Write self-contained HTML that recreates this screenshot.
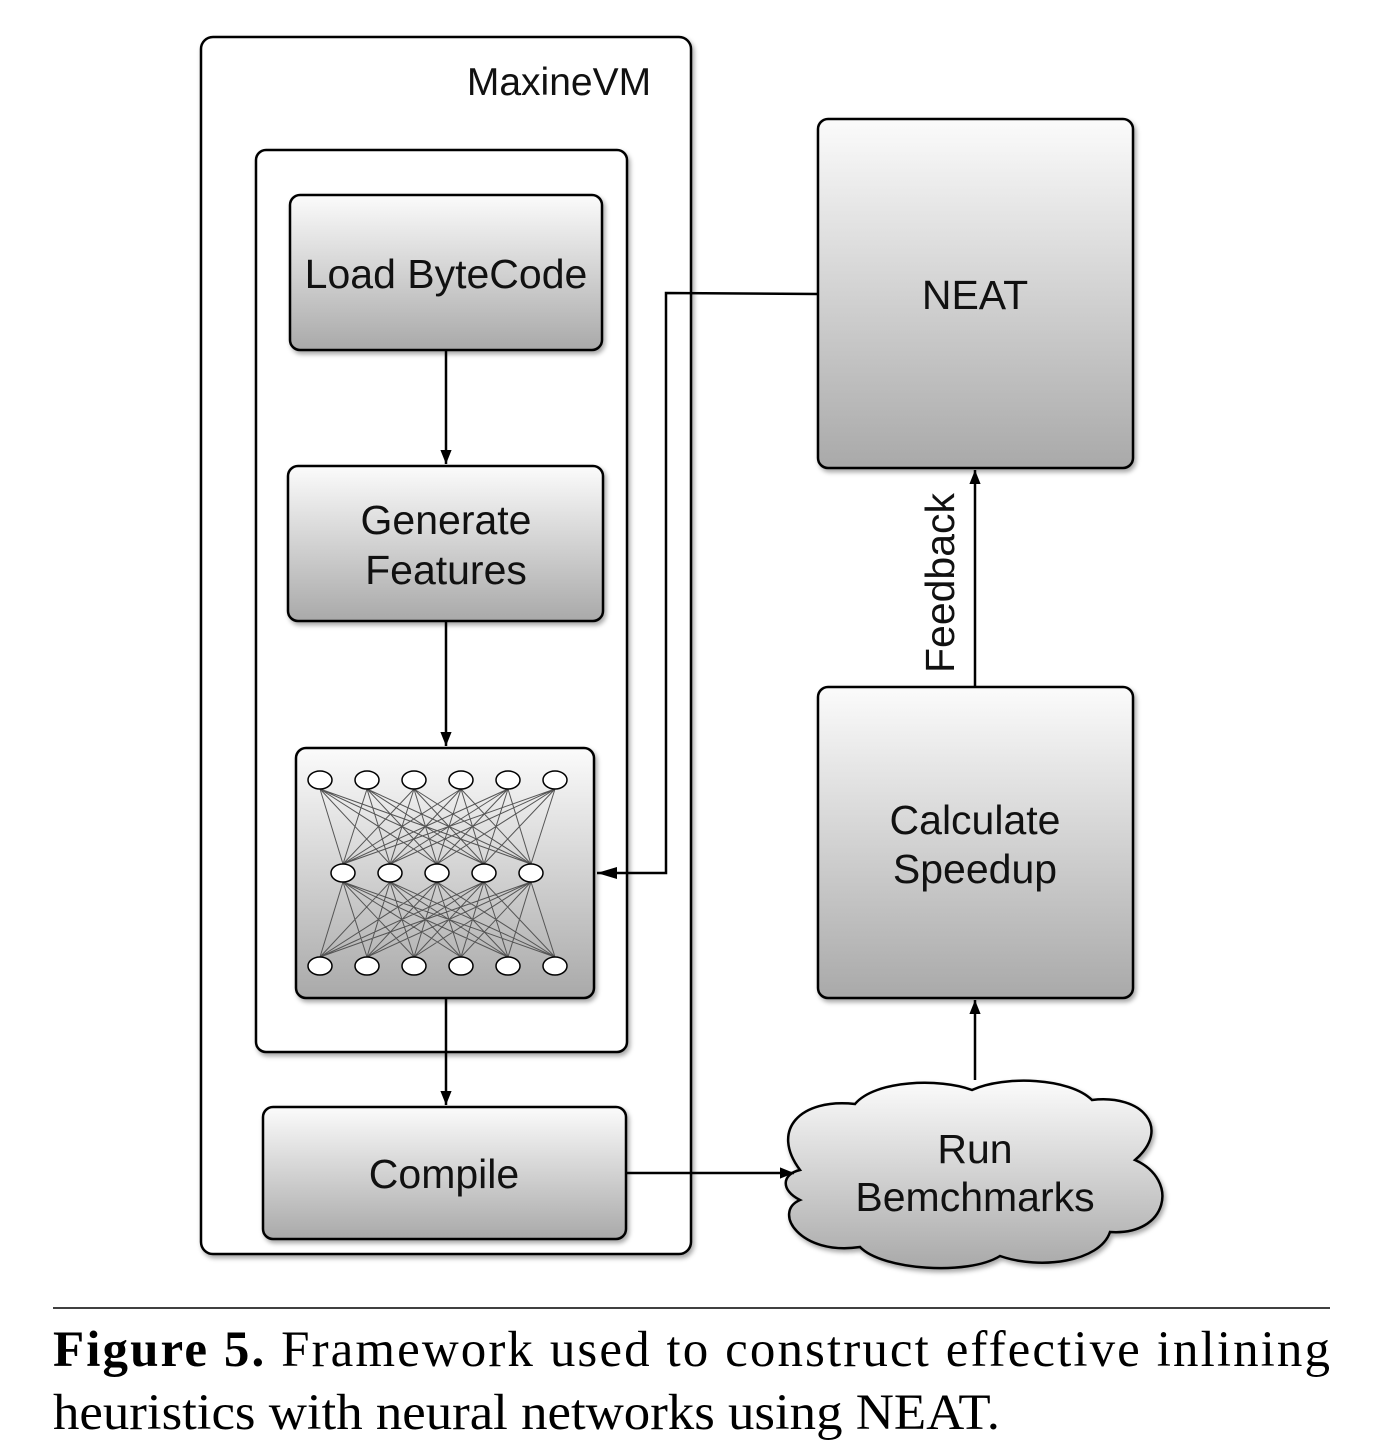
<!DOCTYPE html>
<html><head><meta charset="utf-8"><style>
html,body{margin:0;padding:0;background:#fff;}
svg{display:block;}
.t{font-family:"Liberation Sans",sans-serif;font-size:41px;fill:#111;text-anchor:middle;}
.c{font-family:"Liberation Serif",serif;font-size:51px;fill:#000;}
</style></head><body>
<svg width="1396" height="1448" viewBox="0 0 1396 1448" xmlns="http://www.w3.org/2000/svg">
<defs>
<linearGradient id="g" x1="0" y1="0" x2="0" y2="1"><stop offset="0" stop-color="#fbfbfb"/><stop offset="1" stop-color="#a9a9a9"/></linearGradient>
<filter id="s" x="-10%" y="-10%" width="130%" height="130%"><feDropShadow dx="2" dy="3" stdDeviation="2.5" flood-color="#000" flood-opacity="0.35"/></filter>
<marker id="a" viewBox="0 0 10 10" refX="10" refY="5" markerWidth="14" markerHeight="14" markerUnits="userSpaceOnUse" orient="auto"><path d="M0,1L10,5L0,9z" fill="#000"/></marker>
<marker id="b" viewBox="0 0 10 10" refX="10" refY="5" markerWidth="20" markerHeight="20" markerUnits="userSpaceOnUse" orient="auto"><path d="M0,2L10,5L0,8z" fill="#000"/></marker>
</defs>
<rect x="201" y="37" width="490" height="1217" rx="12" fill="#fff" stroke="#000" stroke-width="2.5" filter="url(#s)"/>
<text x="559" y="95" class="t" style="font-size:39px">MaxineVM</text>
<rect x="256" y="150" width="371" height="902" rx="10" fill="#fff" stroke="#000" stroke-width="2.5" filter="url(#s)"/>

<rect x="290" y="195" width="312" height="155" rx="10" fill="url(#g)" stroke="#000" stroke-width="2.5" filter="url(#s)"/>
<text x="446" y="288" class="t">Load ByteCode</text>
<rect x="288" y="466" width="315" height="155" rx="10" fill="url(#g)" stroke="#000" stroke-width="2.5" filter="url(#s)"/>
<text x="446" y="534" class="t">Generate</text>
<text x="446" y="584" class="t">Features</text>
<rect x="296" y="748" width="298" height="250" rx="10" fill="url(#g)" stroke="#000" stroke-width="2.5" filter="url(#s)"/>
<path stroke="#555" stroke-width="1" fill="none" d="
M320 789L343 864M320 789L390 864M320 789L437 864M320 789L484 864M320 789L531 864
M367 789L343 864M367 789L390 864M367 789L437 864M367 789L484 864M367 789L531 864
M414 789L343 864M414 789L390 864M414 789L437 864M414 789L484 864M414 789L531 864
M461 789L343 864M461 789L390 864M461 789L437 864M461 789L484 864M461 789L531 864
M508 789L343 864M508 789L390 864M508 789L437 864M508 789L484 864M508 789L531 864
M555 789L343 864M555 789L390 864M555 789L437 864M555 789L484 864M555 789L531 864
M343 882L320 957M343 882L367 957M343 882L414 957M343 882L461 957M343 882L508 957M343 882L555 957
M390 882L320 957M390 882L367 957M390 882L414 957M390 882L461 957M390 882L508 957M390 882L555 957
M437 882L320 957M437 882L367 957M437 882L414 957M437 882L461 957M437 882L508 957M437 882L555 957
M484 882L320 957M484 882L367 957M484 882L414 957M484 882L461 957M484 882L508 957M484 882L555 957
M531 882L320 957M531 882L367 957M531 882L414 957M531 882L461 957M531 882L508 957M531 882L555 957"/>
<g fill="#fff" stroke="#000" stroke-width="1.5">
<ellipse cx="320" cy="780" rx="12" ry="9"/><ellipse cx="367" cy="780" rx="12" ry="9"/><ellipse cx="414" cy="780" rx="12" ry="9"/><ellipse cx="461" cy="780" rx="12" ry="9"/><ellipse cx="508" cy="780" rx="12" ry="9"/><ellipse cx="555" cy="780" rx="12" ry="9"/>
<ellipse cx="343" cy="873" rx="12" ry="9"/><ellipse cx="390" cy="873" rx="12" ry="9"/><ellipse cx="437" cy="873" rx="12" ry="9"/><ellipse cx="484" cy="873" rx="12" ry="9"/><ellipse cx="531" cy="873" rx="12" ry="9"/>
<ellipse cx="320" cy="966" rx="12" ry="9"/><ellipse cx="367" cy="966" rx="12" ry="9"/><ellipse cx="414" cy="966" rx="12" ry="9"/><ellipse cx="461" cy="966" rx="12" ry="9"/><ellipse cx="508" cy="966" rx="12" ry="9"/><ellipse cx="555" cy="966" rx="12" ry="9"/>
</g>
<rect x="263" y="1107" width="363" height="132" rx="10" fill="url(#g)" stroke="#000" stroke-width="2.5" filter="url(#s)"/>
<text x="444" y="1188" class="t">Compile</text>

<rect x="818" y="119" width="315" height="349" rx="10" fill="url(#g)" stroke="#000" stroke-width="2.5" filter="url(#s)"/>
<text x="975" y="309" class="t">NEAT</text>
<rect x="818" y="687" width="315" height="311" rx="10" fill="url(#g)" stroke="#000" stroke-width="2.5" filter="url(#s)"/>
<text x="975" y="834" class="t">Calculate</text>
<text x="975" y="883" class="t">Speedup</text>

<path d="M800 1170 C770 1130 800 1098 855 1104 C875 1080 940 1078 972 1090 C1005 1075 1070 1078 1092 1100 C1142 1094 1172 1128 1135 1160 C1180 1180 1168 1236 1110 1232 C1100 1262 1040 1270 1000 1256 C968 1276 882 1270 860 1247 C800 1256 772 1212 800 1200 C780 1190 782 1174 800 1170 Z" fill="url(#g)" stroke="#000" stroke-width="2.5" filter="url(#s)"/>
<text x="975" y="1163" class="t">Run</text>
<text x="975" y="1211" class="t">Bemchmarks</text>

<g stroke="#000" stroke-width="2.5" fill="none">
<line x1="446" y1="350" x2="446" y2="464" marker-end="url(#a)"/>
<line x1="446" y1="621" x2="446" y2="746" marker-end="url(#a)"/>
<line x1="446" y1="998" x2="446" y2="1105" marker-end="url(#a)"/>
<line x1="626" y1="1173" x2="794" y2="1173" marker-end="url(#a)"/>
<line x1="975" y1="1080" x2="975" y2="1000" marker-end="url(#a)"/>
<line x1="975" y1="687" x2="975" y2="470" marker-end="url(#a)"/>
<polyline points="818,294 666,293 666,873 597,873" marker-end="url(#b)"/>
</g>
<text class="t" transform="translate(954,583) rotate(-90)">Feedback</text>

<line x1="53" y1="1308" x2="1330" y2="1308" stroke="#000" stroke-width="1.5"/>
<text class="c" x="53" y="1366" textLength="1277" lengthAdjust="spacing"><tspan font-weight="bold">Figure 5.</tspan> Framework used to construct effective inlining</text>
<text class="c" x="53" y="1429" textLength="947" lengthAdjust="spacingAndGlyphs">heuristics with neural networks using NEAT.</text>
</svg>
</body></html>
